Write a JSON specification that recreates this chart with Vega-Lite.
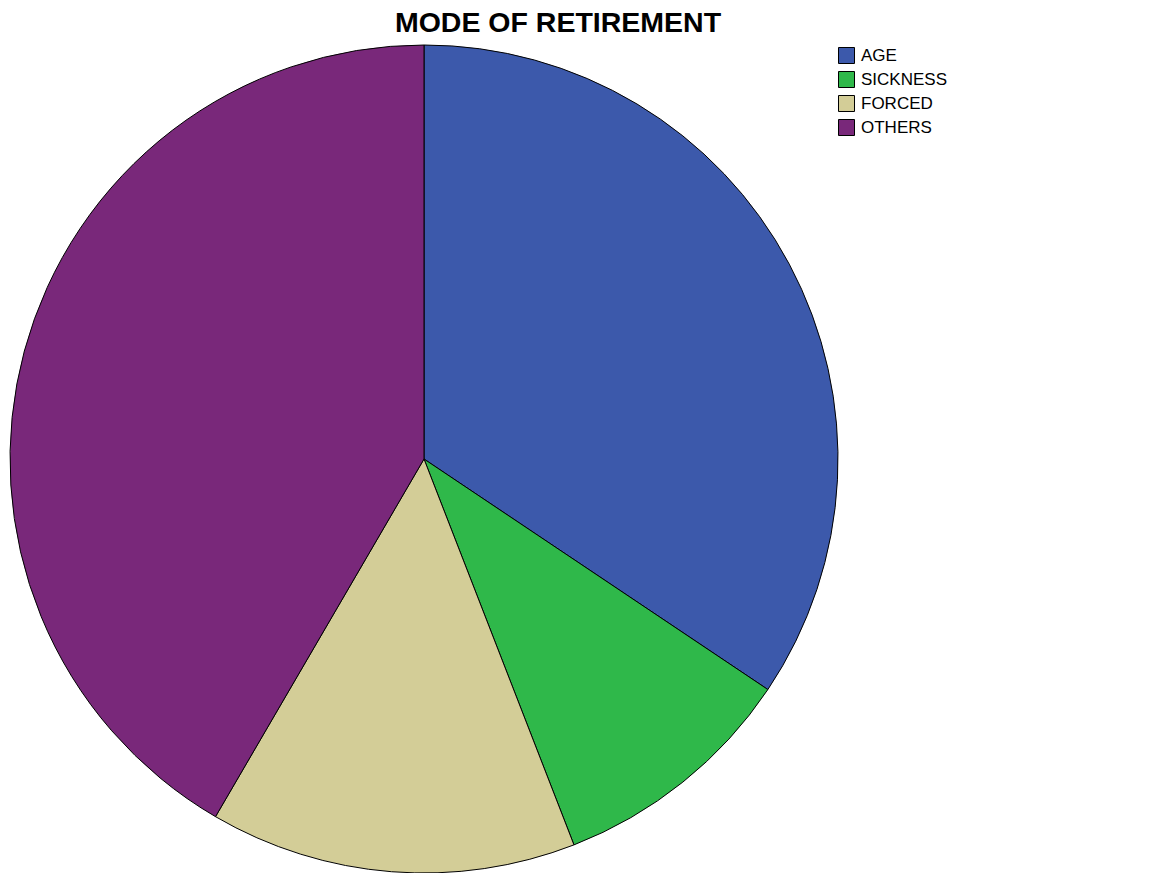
{
  "$schema": "https://vega.github.io/schema/vega-lite/v6.json",
  "width": 848,
  "height": 830,
  "autosize": {"type": "none"},
  "padding": {"top": 44, "left": 0, "right": 315, "bottom": 0},
  "background": "white",
  "title": {
    "text": "MODE OF RETIREMENT",
    "font": "Liberation Sans",
    "fontSize": 28.5,
    "fontWeight": "bold",
    "color": "black",
    "anchor": "middle",
    "baseline": "alphabetic",
    "offset": -17,
    "dx": 134
  },
  "data": {
    "values": [
      {"mode": "AGE", "percent": 34.4, "idx": 1},
      {"mode": "SICKNESS", "percent": 9.7, "idx": 2},
      {"mode": "FORCED", "percent": 14.3, "idx": 3},
      {"mode": "OTHERS", "percent": 41.6, "idx": 4}
    ]
  },
  "mark": {"type": "arc", "outerRadius": 414, "stroke": "black", "strokeWidth": 1},
  "encoding": {
    "theta": {"field": "percent", "type": "quantitative", "stack": true},
    "order": {"field": "idx", "type": "quantitative", "sort": "ascending"},
    "color": {
      "field": "mode",
      "type": "nominal",
      "scale": {
        "domain": ["AGE", "SICKNESS", "FORCED", "OTHERS"],
        "range": ["#3C59AB", "#2FB84A", "#D3CD97", "#79287A"]
      },
      "legend": {
        "title": null,
        "orient": "none",
        "legendX": 838,
        "legendY": 3,
        "symbolType": "square",
        "symbolSize": 256,
        "symbolStrokeColor": "black",
        "symbolStrokeWidth": 1,
        "symbolOpacity": 1,
        "labelFont": "Liberation Sans",
        "labelFontSize": 17,
        "labelColor": "black",
        "labelOffset": 6,
        "rowPadding": 3
      }
    }
  },
  "config": {"view": {"stroke": null}}
}
